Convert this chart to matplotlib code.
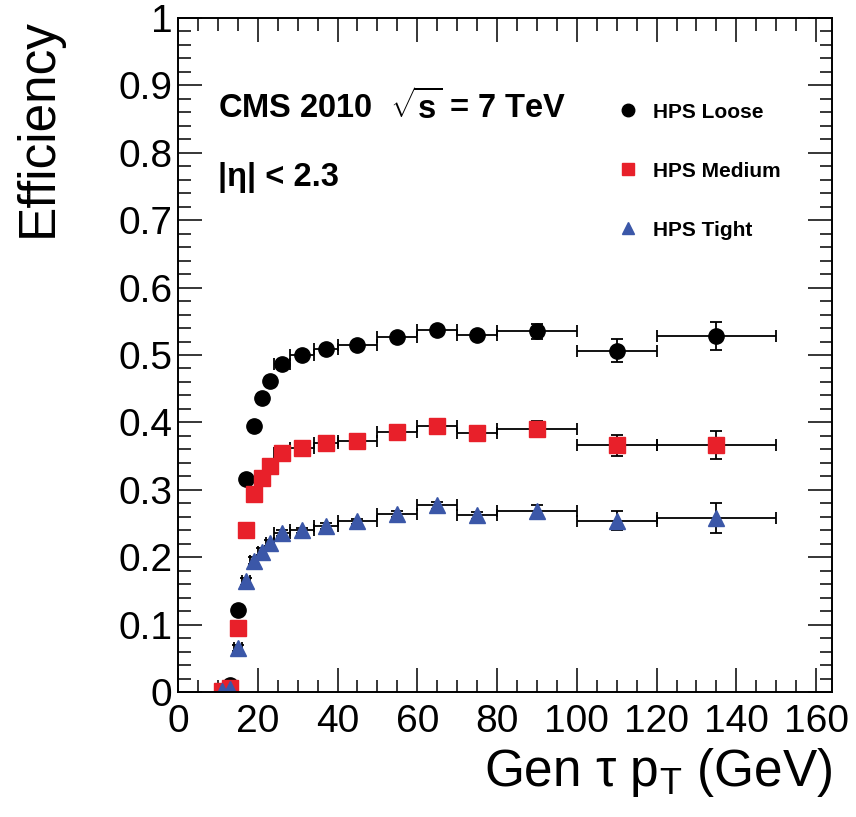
import numpy as np
import matplotlib
matplotlib.use('Agg')
import matplotlib.pyplot as plt
from matplotlib.lines import Line2D
from matplotlib.ticker import MultipleLocator

plt.rcParams['font.family'] = ['Liberation Sans', 'DejaVu Sans']
plt.rcParams['mathtext.fontset'] = 'custom'
plt.rcParams['mathtext.rm'] = 'Liberation Sans'
plt.rcParams['mathtext.bf'] = 'Liberation Sans:bold'
plt.rcParams['mathtext.it'] = 'Liberation Sans:italic'

# bins in generated tau pT (GeV)
pt = np.array([11, 13, 15, 17, 19, 21, 23, 26, 31, 37, 45, 55, 65, 75, 90, 110, 135])
pt_lo = np.array([10, 12, 14, 16, 18, 20, 22, 24, 28, 34, 40, 50, 60, 70, 80, 100, 120])
pt_hi = np.array([12, 14, 16, 18, 20, 22, 24, 28, 34, 40, 50, 60, 70, 80, 100, 120, 150])

loose = [0.002, 0.010, 0.121, 0.316, 0.394, 0.436, 0.462, 0.487, 0.500, 0.509,
         0.515, 0.527, 0.537, 0.529, 0.535, 0.506, 0.528]
loose_err = [0.002, 0.003, 0.005, 0.006, 0.006, 0.006, 0.006, 0.005, 0.005, 0.005,
             0.005, 0.005, 0.006, 0.006, 0.011, 0.017, 0.021]

medium = [0.002, 0.006, 0.095, 0.241, 0.294, 0.317, 0.336, 0.355, 0.362, 0.369,
          0.373, 0.385, 0.395, 0.384, 0.390, 0.366, 0.366]
medium_err = [0.002, 0.003, 0.005, 0.006, 0.006, 0.006, 0.006, 0.005, 0.005, 0.005,
              0.005, 0.005, 0.006, 0.006, 0.012, 0.016, 0.021]

tight = [0.001, 0.004, 0.065, 0.164, 0.195, 0.208, 0.221, 0.236, 0.240, 0.246,
         0.253, 0.264, 0.277, 0.262, 0.269, 0.254, 0.258]
tight_err = [0.001, 0.002, 0.004, 0.005, 0.005, 0.005, 0.005, 0.005, 0.004, 0.004,
             0.004, 0.005, 0.005, 0.005, 0.008, 0.014, 0.022]

xerr = [pt - pt_lo, pt_hi - pt]

fig, ax = plt.subplots(figsize=(8.56, 8.17), dpi=100)
fig.subplots_adjust(left=0.208, right=0.972, top=0.978, bottom=0.153)

series = [(loose, loose_err, 'o', 'black', 'HPS Loose'),
          (medium, medium_err, 's', '#e8202a', 'HPS Medium'),
          (tight, tight_err, '^', '#3b57a8', 'HPS Tight')]

handles = []
for vals, errs, mk, col, lab in series:
    ax.errorbar(pt, vals, xerr=xerr, yerr=errs, fmt=mk, color=col, ms=11,
                mec=col, ecolor='black', elinewidth=1.3, capsize=4, capthick=1.3)
    handles.append(Line2D([], [], marker=mk, ls='none', color=col, ms=9))

ax.set_xlim(0, 164)
ax.set_ylim(0, 1)

ax.xaxis.set_major_locator(MultipleLocator(20))
ax.xaxis.set_minor_locator(MultipleLocator(5))
ax.yaxis.set_major_locator(MultipleLocator(0.1))
ax.yaxis.set_minor_locator(MultipleLocator(0.02))
ax.yaxis.set_major_formatter(matplotlib.ticker.FuncFormatter(lambda v, p: '%g' % round(v, 2)))
ax.tick_params(which='both', direction='in', top=True, right=True, width=1.1)
ax.tick_params(which='major', length=17, labelsize=28)
ax.tick_params(axis='x', which='major', pad=9)
ax.tick_params(axis='y', which='major', pad=4)
ax.tick_params(which='minor', length=9)
for s in ax.spines.values():
    s.set_linewidth(1.4)

ax.set_ylabel('Efficiency', fontsize=37, loc='top', labelpad=40)
ax.set_xlabel('Gen \u03c4 p$_{\\mathregular{T}}$ (GeV)', fontsize=37, loc='right', labelpad=4)

ax.text(0.061, 0.866, 'CMS 2010  $\\sqrt{\\mathbf{s}}$ = 7 TeV', transform=ax.transAxes,
        fontsize=23.5, fontweight='bold', va='center', ha='left')
ax.text(0.061, 0.763, '|\u03b7| < 2.3', transform=ax.transAxes,
        fontsize=23.5, fontweight='bold', va='center', ha='left')

ax.legend(handles, [s[4] for s in series], loc='upper left', bbox_to_anchor=(0.643, 0.902),
          frameon=False, prop=dict(family='Liberation Sans', weight='bold', size=15),
          labelspacing=1.92, handlelength=1.0, handletextpad=0.7)

fig.savefig('out.png', dpi=100)
